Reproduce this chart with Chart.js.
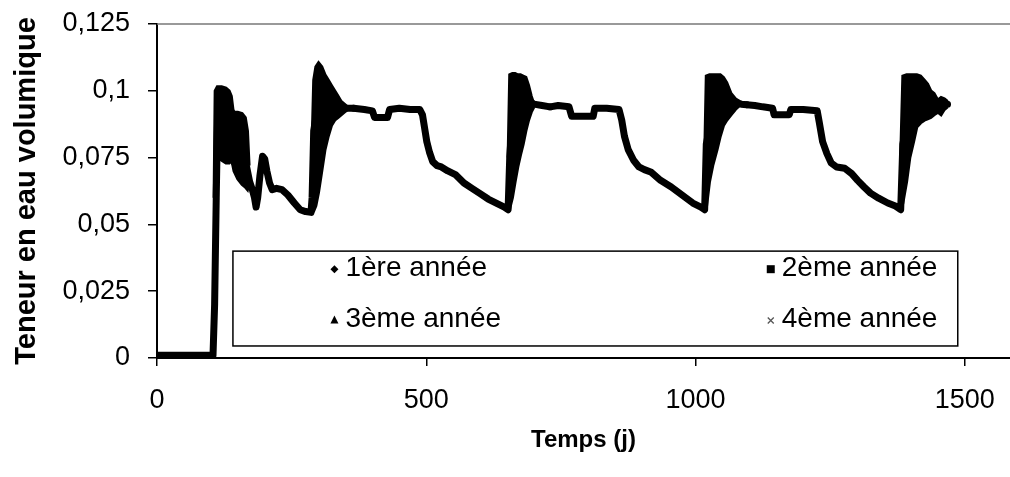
<!DOCTYPE html>
<html>
<head>
<meta charset="utf-8">
<script src="https://cdn.jsdelivr.net/npm/chart.js@4.4.1/dist/chart.umd.min.js"></script>
<style>
  html, body { margin: 0; padding: 0; background: #fff; }
  #wrap { width: 1010px; height: 477px; position: relative; }
</style>
</head>
<body>
<div id="wrap"><canvas id="c" width="1010" height="477"></canvas></div>
<script>
// Series labels (legend)
var SERIES = ['1ère année', '2ème année', '3ème année', '4ème année'];

// Water content per year, thick central curve (day, value)
var year1Days = [0, 25, 50, 75, 100, 104, 107, 110, 113, 120, 128, 135, 142, 150, 158, 166, 172, 177, 181, 184, 187, 191, 196, 200, 204, 209, 214, 222, 232, 243, 255, 266, 276, 286, 288, 291, 295, 305, 320, 335, 350, 365];
var year1Vals = [0.001, 0.001, 0.001, 0.001, 0.001, 0.001, 0.02, 0.06, 0.095, 0.09, 0.088, 0.085, 0.083, 0.08, 0.076, 0.072, 0.066, 0.063, 0.06, 0.0565, 0.06, 0.068, 0.0755, 0.0745, 0.07, 0.0655, 0.063, 0.0635, 0.063, 0.061, 0.058, 0.0555, 0.0548, 0.0545, 0.06, 0.085, 0.09, 0.094, 0.095, 0.094, 0.0935, 0.0935];

var year2Days = [365, 385, 400, 404, 428, 432, 450, 470, 488, 493, 497, 501, 506, 512, 520, 528, 540, 555, 570, 585, 600, 615, 630, 645, 652, 655, 660, 670, 685, 700, 715, 730];
var year2Vals = [0.0935, 0.093, 0.0925, 0.090, 0.090, 0.093, 0.0935, 0.093, 0.093, 0.091, 0.086, 0.081, 0.077, 0.0735, 0.072, 0.0715, 0.070, 0.0685, 0.0655, 0.0635, 0.0615, 0.0595, 0.058, 0.0565, 0.0555, 0.075, 0.09, 0.097, 0.097, 0.095, 0.0945, 0.094];

var year3Days = [730, 745, 765, 770, 810, 813, 835, 858, 863, 868, 875, 885, 895, 905, 918, 935, 955, 975, 995, 1010, 1017, 1020, 1030, 1050, 1070, 1085, 1095];
var year3Vals = [0.094, 0.0945, 0.094, 0.0905, 0.0905, 0.0935, 0.0935, 0.093, 0.089, 0.083, 0.078, 0.074, 0.0715, 0.0705, 0.0695, 0.0665, 0.064, 0.061, 0.058, 0.0565, 0.0555, 0.08, 0.09, 0.097, 0.096, 0.095, 0.0948];

var year4Days = [1095, 1110, 1125, 1143, 1146, 1174, 1177, 1200, 1226, 1230, 1236, 1244, 1252, 1262, 1277, 1290, 1301, 1313, 1325, 1340, 1357, 1370, 1381, 1385, 1400, 1430, 1468];
var year4Vals = [0.0948, 0.0945, 0.094, 0.0935, 0.091, 0.091, 0.093, 0.093, 0.0925, 0.088, 0.081, 0.0765, 0.073, 0.0715, 0.071, 0.069, 0.0665, 0.064, 0.0617, 0.0598, 0.058, 0.057, 0.0555, 0.08, 0.095, 0.095, 0.095];

// Daily oscillation after each rewetting: upper / lower envelopes
var band1Days  = [106, 108, 112, 120, 128, 134, 138, 141, 143, 150, 158, 164, 168, 171];
var band1Upper = [0.06, 0.1, 0.1015, 0.1015, 0.101, 0.1, 0.098, 0.093, 0.092, 0.092, 0.0915, 0.09, 0.085, 0.072];
var band1Lower = [0.03, 0.07, 0.075, 0.074, 0.073, 0.073, 0.074, 0.072, 0.07, 0.067, 0.065, 0.064, 0.063, 0.066];

var band2Days  = [288, 291, 295, 300, 306, 312, 318, 324, 330, 336, 342, 348, 354];
var band2Upper = [0.08, 0.104, 0.109, 0.1105, 0.109, 0.106, 0.104, 0.102, 0.1, 0.098, 0.096, 0.095, 0.094];
var band2Lower = [0.055, 0.055, 0.057, 0.062, 0.07, 0.078, 0.083, 0.087, 0.089, 0.09, 0.091, 0.092, 0.093];

var band3Days  = [652, 655, 660, 665, 670, 675, 680, 685, 690, 695, 700];
var band3Upper = [0.075, 0.106, 0.1065, 0.1065, 0.106, 0.106, 0.1055, 0.105, 0.102, 0.098, 0.095];
var band3Lower = [0.0555, 0.056, 0.06, 0.066, 0.0715, 0.076, 0.08, 0.085, 0.089, 0.092, 0.094];

var band4Days  = [1017, 1020, 1026, 1032, 1040, 1046, 1052, 1058, 1066, 1074, 1082];
var band4Upper = [0.075, 0.1055, 0.106, 0.106, 0.106, 0.106, 0.105, 0.103, 0.099, 0.097, 0.096];
var band4Lower = [0.0555, 0.056, 0.066, 0.072, 0.078, 0.083, 0.087, 0.089, 0.091, 0.093, 0.0945];

var band5Days  = [1381, 1385, 1392, 1398, 1405, 1411, 1418, 1425, 1431, 1437, 1443, 1450, 1456, 1462, 1468];
var band5Upper = [0.075, 0.1055, 0.106, 0.106, 0.106, 0.106, 0.1055, 0.104, 0.1025, 0.1, 0.099, 0.0965, 0.0975, 0.097, 0.096];
var band5Lower = [0.0555, 0.058, 0.066, 0.075, 0.081, 0.0865, 0.088, 0.089, 0.0895, 0.09, 0.091, 0.092, 0.091, 0.093, 0.094];

var X_TICKS = [0, 500, 1000, 1500];
var Y_TICKS = [0, 0.025, 0.05, 0.075, 0.1, 0.125];

var FONT = "'Liberation Sans', Arial, sans-serif";

function pts(days, vals) {
  return days.map(function (d, i) { return { x: d, y: vals[i] }; });
}

var yearSets = [[year1Days, year1Vals], [year2Days, year2Vals], [year3Days, year3Vals], [year4Days, year4Vals]];
var bands = [
  [band1Days, band1Upper, band1Lower],
  [band2Days, band2Upper, band2Lower],
  [band3Days, band3Upper, band3Lower],
  [band4Days, band4Upper, band4Lower],
  [band5Days, band5Upper, band5Lower]
];

var datasets = yearSets.map(function (s, i) {
  return {
    label: SERIES[i],
    data: pts(s[0], s[1]),
    borderColor: '#000',
    borderWidth: 7,
    borderJoinStyle: 'round',
    borderCapStyle: 'round',
    pointRadius: 0,
    fill: false
  };
});
bands.forEach(function (b) {
  datasets.push({ label: '', data: pts(b[0], b[1]), borderColor: '#000', borderWidth: 3, pointRadius: 0, backgroundColor: '#000', fill: { target: '+1', above: '#000', below: '#000' } });
  datasets.push({ label: '', data: pts(b[0], b[2]), borderColor: '#000', borderWidth: 3, pointRadius: 0, fill: false });
});

// small marker glyphs for the legend
function drawMarker(ctx, kind, x, y) {
  ctx.save();
  ctx.fillStyle = '#000';
  ctx.strokeStyle = '#555';
  ctx.beginPath();
  if (kind === 0) {
    ctx.moveTo(x, y - 4); ctx.lineTo(x + 4, y); ctx.lineTo(x, y + 4); ctx.lineTo(x - 4, y);
    ctx.closePath(); ctx.fill();
  } else if (kind === 1) {
    ctx.rect(x - 4, y - 4, 8, 8); ctx.fill();
  } else if (kind === 2) {
    ctx.moveTo(x, y - 5); ctx.lineTo(x + 4, y + 3); ctx.lineTo(x - 4, y + 3);
    ctx.closePath(); ctx.fill();
  } else {
    ctx.lineWidth = 1.3;
    ctx.moveTo(x - 3, y - 3); ctx.lineTo(x + 3, y + 3);
    ctx.moveTo(x + 3, y - 3); ctx.lineTo(x - 3, y + 3);
    ctx.stroke();
  }
  ctx.restore();
}

// top frame line + boxed legend inside the plot
var framePlugin = {
  id: 'frame',
  afterDraw: function (chart) {
    var ctx = chart.ctx, a = chart.chartArea;
    var xs = chart.scales.x, ys = chart.scales.y;
    ctx.save();
    ctx.strokeStyle = '#777';
    ctx.lineWidth = 1.5;
    ctx.beginPath();
    ctx.moveTo(a.left, a.top);
    ctx.lineTo(chart.width, a.top);
    ctx.stroke();

    // legend box placed in data units
    var bx1 = xs.getPixelForValue(141), bx2 = xs.getPixelForValue(1487);
    var by1 = ys.getPixelForValue(0.040), by2 = ys.getPixelForValue(0.0045);
    ctx.fillStyle = '#fff';
    ctx.fillRect(bx1, by1, bx2 - bx1, by2 - by1);
    ctx.strokeStyle = '#000';
    ctx.lineWidth = 1.5;
    ctx.strokeRect(bx1, by1, bx2 - bx1, by2 - by1);

    var w = bx2 - bx1;
    var cols = [bx1 + w * 0.14, bx1 + w * 0.742];
    var rows = [by1 + (by2 - by1) * 0.18, by1 + (by2 - by1) * 0.72];
    ctx.font = '28px ' + FONT;
    ctx.textBaseline = 'middle';
    ctx.textAlign = 'left';
    SERIES.forEach(function (s, i) {
      var cx = cols[i % 2], cy = rows[Math.floor(i / 2)];
      drawMarker(ctx, i, cx, cy + 1);
      ctx.fillStyle = '#000';
      ctx.fillText(s, cx + 11, cy);
    });
    ctx.restore();
  }
};

new Chart(document.getElementById('c'), {
  type: 'line',
  data: { datasets: datasets },
  plugins: [framePlugin],
  options: {
    responsive: false,
    animation: false,
    layout: { padding: { top: 24, right: 0, left: 0, bottom: 0 } },
    plugins: {
      legend: { display: false },
      tooltip: { enabled: false },
      filler: { propagate: false }
    },
    scales: {
      x: {
        type: 'linear',
        min: 0,
        max: 1584,
        afterBuildTicks: function (s) { s.ticks = X_TICKS.map(function (v) { return { value: v }; }); },
        afterFit: function (s) { s.height = 119; s.paddingLeft = 0; s.paddingRight = 0; },
        ticks: {
          color: '#000', padding: 18, font: { family: FONT, size: 27 }, maxRotation: 0,
          callback: function (v) { return String(v); }
        },
        grid: { display: true, drawOnChartArea: false, color: '#000', tickLength: 8, lineWidth: 1.5 },
        border: { display: true, color: '#000', width: 2 },
        title: { display: true, text: 'Temps (j)', color: '#000', font: { family: FONT, size: 24, weight: 'bold' }, padding: { top: 0, bottom: 22 } }
      },
      y: {
        min: 0,
        max: 0.125,
        afterBuildTicks: function (s) { s.ticks = Y_TICKS.map(function (v) { return { value: v }; }); },
        afterFit: function (s) { s.width = 157; s.paddingTop = 0; s.paddingBottom = 0; },
        ticks: {
          color: '#000', padding: 18, font: { family: FONT, size: 27 },
          callback: function (v) { return String(+v.toFixed(3)).replace('.', ','); }
        },
        grid: { display: true, drawOnChartArea: false, color: '#000', tickLength: 9, lineWidth: 1.5 },
        border: { display: true, color: '#000', width: 2 },
        title: { display: true, text: 'Teneur en eau volumique', color: '#000', font: { family: FONT, size: 29, weight: 'bold' }, padding: { top: 10, bottom: 0 } }
      }
    }
  }
});
</script>
</body>
</html>
